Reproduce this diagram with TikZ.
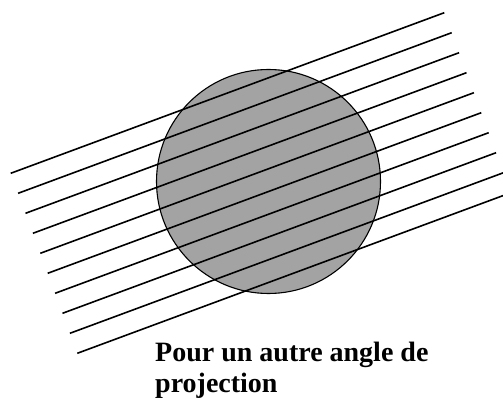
\documentclass[tikz,border=0pt]{standalone}
\usepackage{fontspec}
\setmainfont{Liberation Serif}
\usetikzlibrary{shapes.geometric, positioning}
\tikzset{
  disc/.style={circle, draw=black, line width=1.1pt, fill=black!36, inner sep=0pt},
  ray/.style={draw=black, line width=1.6pt},
  caption/.style={font=\fontsize{28}{31}\selectfont\bfseries, align=left, inner sep=0pt},
}

\begin{document}
\begin{tikzpicture}[x=1pt, y=-1pt]
  \useasboundingbox (0,0) rectangle (503,403);
  \clip (0,0) rectangle (503,403);

  % Object
  \node[disc, minimum size=224pt] (ball) at (268.5,181.5) {};

  % Parallel projection rays
  \foreach \i in {0,...,9}
    \draw[ray] (10.7+7.4*\i, 173.3+20*\i) -- ++(433.6,-160.6);

  % Caption
  \node[caption, anchor=north west] (label) at (155,342) {Pour un autre angle de\\projection};
\end{tikzpicture}
\end{document}
